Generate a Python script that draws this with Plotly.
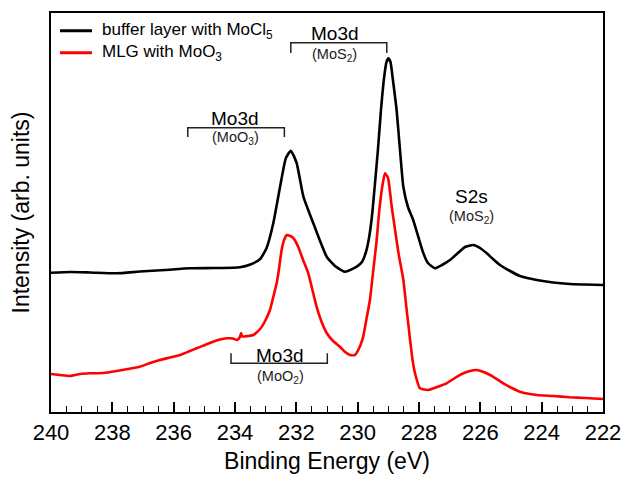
import plotly.graph_objects as go

# ---- data (binding energy in eV, intensity in arb. units) ----
black_ev = [240.00, 239.38, 238.73, 237.86, 237.10, 236.28, 235.47, 234.65, 233.84, 233.50,
            233.18, 232.97, 232.75, 232.53, 232.34, 232.18, 231.99, 231.77, 231.45,
            231.01, 230.74, 230.41, 230.03, 229.86, 229.73, 229.63, 229.53, 229.44, 229.34,
            229.24, 229.14, 229.06, 229.00, 228.93, 228.85, 228.73, 228.62, 228.51, 228.36,
            228.19, 228.03, 227.86, 227.71, 227.48, 227.25, 226.99, 226.73, 226.50, 226.23,
            226.01, 225.79, 225.59, 225.36, 225.03, 224.71, 224.16, 223.63, 223.08, 222.59,
            222.00]
black_int = [139.3, 140.0, 139.5, 138.7, 140.5, 142.0, 143.7, 144.0, 144.8, 147.5,
             153.0, 164.0, 189.0, 225.3, 254.0, 261.3, 249.0, 215.3, 189.0,
             155.3, 146.0, 140.3, 145.3, 150.0, 160.0, 174.0, 197.0, 227.0, 262.0,
             302.0, 334.0, 350.0, 353.7, 350.0, 332.0, 302.0, 262.0, 225.0, 205.0,
             192.0, 176.0, 159.0, 149.0, 143.7, 147.0, 152.0, 159.0, 165.0, 167.0,
             164.0, 158.7, 153.0, 147.0, 141.0, 136.0, 132.0, 129.5, 128.0, 127.5,
             127.0]

red_ev = [240.00, 239.71, 239.38, 239.05, 238.73, 238.30, 237.86, 237.49, 237.10, 236.77,
          236.45, 236.12, 235.79, 235.47, 235.25, 234.98, 234.71, 234.49, 234.27, 234.07,
          233.93, 233.84, 233.80, 233.76, 233.58, 233.40, 233.18, 233.02, 232.86, 232.76,
          232.64, 232.57, 232.48, 232.40, 232.31, 232.24, 232.10, 231.94, 231.78, 231.61,
          231.49, 231.34, 231.20, 231.01, 230.80, 230.58, 230.41, 230.25, 230.09, 229.92,
          229.82, 229.73, 229.60, 229.49, 229.38, 229.30, 229.20, 229.11, 229.01, 228.89,
          228.78, 228.67, 228.51, 228.42, 228.29, 228.21, 228.13, 227.97, 227.70, 227.41,
          227.10, 226.83, 226.55, 226.34, 226.12, 226.01, 225.68, 225.25, 224.97, 224.71,
          224.16, 223.63, 223.08, 222.59, 222.00]
red_int = [38.0, 37.0, 36.0, 38.0, 38.7, 39.0, 41.0, 43.0, 45.3, 49.0,
           52.0, 54.5, 57.0, 61.0, 63.7, 67.0, 70.3, 72.5, 73.7, 73.5,
           72.0, 75.0, 79.0, 75.5, 76.0, 77.0, 83.0, 91.0, 102.0, 114.0,
           129.0, 142.0, 162.0, 172.0, 177.0, 176.5, 174.0, 165.3, 152.0, 138.7,
           124.0, 105.3, 92.0, 79.0, 71.0, 65.3, 60.0, 57.0, 57.0, 66.0,
           75.3, 90.0, 112.0, 142.0, 172.0, 200.0, 225.0, 238.7, 234.0, 205.3,
           182.0, 159.0, 132.0, 107.0, 72.0, 52.0, 38.7, 23.7, 22.0, 25.0,
           28.7, 34.0, 38.7, 41.0, 42.0, 41.3, 37.0, 28.7, 24.0, 20.3,
           17.0, 16.0, 14.7, 14.0, 13.0]

series_names = ["buffer layer with MoCl<sub>5</sub>", "MLG with MoO<sub>3</sub>"]
series_colors = ["#000000", "#ff0000"]

x_ticks = [240, 238, 236, 234, 232, 230, 228, 226, 224, 222]

# bracket labels: (main text, sub text, x_left, x_right, y_bar, y_end, x_text, y_main, y_sub)
brackets = [
    ("Mo3d", "(MoO<sub>3</sub>)", 235.54, 232.39, 284.3, 275.0, 234.0, 294.0, 274.3),
    ("Mo3d", "(MoS<sub>2</sub>)", 232.18, 229.05, 369.3, 359.0, 230.74, 379.0, 357.0),
    ("Mo3d", "(MoO<sub>2</sub>)", 234.13, 230.99, 48.7, 58.7, 232.53, 57.0, 35.3),
]
s2s_label = ("S2s", "(MoS<sub>2</sub>)", 226.28, 215.3, 195.3)

# legend layout (fractions of the plot area)
legend_rows_y = [0.9556, 0.9005]
legend_line_x = (0.0163, 0.0743)
legend_text_x = 0.0888

FONT = "Liberation Sans, Arial, sans-serif"

fig = go.Figure()
for xs, ys, name, col in [(black_ev, black_int, series_names[0], series_colors[0]),
                          (red_ev, red_int, series_names[1], series_colors[1])]:
    fig.add_trace(go.Scatter(x=xs, y=ys, mode="lines", name=name, showlegend=False,
                             line=dict(color=col, width=2.6, shape="spline", smoothing=0.5)))

shapes = []
annotations = []
for main, sub, xl, xr, yb, ye, xt, ym, ys in brackets:
    shapes.append(dict(type="path", xref="x", yref="y",
                       path=f"M {xl},{ye} L {xl},{yb} L {xr},{yb} L {xr},{ye}",
                       line=dict(color="#222222", width=1.5)))
    annotations.append(dict(x=xt, y=ym, xref="x", yref="y", text=main, showarrow=False,
                            font=dict(size=19, color="#000000", family=FONT)))
    annotations.append(dict(x=xt, y=ys, xref="x", yref="y", text=sub, showarrow=False,
                            font=dict(size=14.5, color="#222222", family=FONT)))
annotations.append(dict(x=s2s_label[2], y=s2s_label[3], xref="x", yref="y", text=s2s_label[0],
                        showarrow=False, font=dict(size=19, color="#000000", family=FONT)))
annotations.append(dict(x=s2s_label[2], y=s2s_label[4], xref="x", yref="y", text=s2s_label[1],
                        showarrow=False, font=dict(size=14.5, color="#222222", family=FONT)))

# manual legend
for name, col, ly in zip(series_names, series_colors, legend_rows_y):
    shapes.append(dict(type="line", xref="paper", yref="paper",
                       x0=legend_line_x[0], x1=legend_line_x[1], y0=ly, y1=ly,
                       line=dict(color=col, width=3)))
    annotations.append(dict(x=legend_text_x, y=ly, xref="paper", yref="paper", text=name,
                            showarrow=False, xanchor="left", yanchor="middle",
                            font=dict(size=17, color="#000000", family=FONT)))

fig.update_layout(
    width=615, height=466,
    margin=dict(l=43, r=20, t=5, b=62),
    paper_bgcolor="white", plot_bgcolor="white",
    font=dict(family=FONT, color="#000000"),
    showlegend=False,
    shapes=shapes, annotations=annotations,
)
fig.update_xaxes(
    range=[240, 222], tickvals=x_ticks, ticktext=[str(v) for v in x_ticks],
    ticks="inside", ticklen=10, tickwidth=1.5, tickcolor="#000000",
    minor=dict(dtick=0.5, tick0=222, ticks="inside", ticklen=6, tickwidth=1.2, tickcolor="#000000"),
    showline=True, linecolor="#000000", linewidth=2, mirror=True,
    showgrid=False, zeroline=False, automargin=False,
    tickfont=dict(size=22, family=FONT, color="#000000"),
    title=dict(text="Binding Energy (eV)", font=dict(size=23, family=FONT, color="#000000"), standoff=15),
)
fig.update_yaxes(
    range=[0, 399], showticklabels=False, ticks="",
    showline=True, linecolor="#000000", linewidth=2, mirror=True,
    showgrid=False, zeroline=False, automargin=False,
    title=dict(text="Intensity (arb. units)", font=dict(size=23, family=FONT, color="#000000"), standoff=14),
)

fig.write_html("out.html")
